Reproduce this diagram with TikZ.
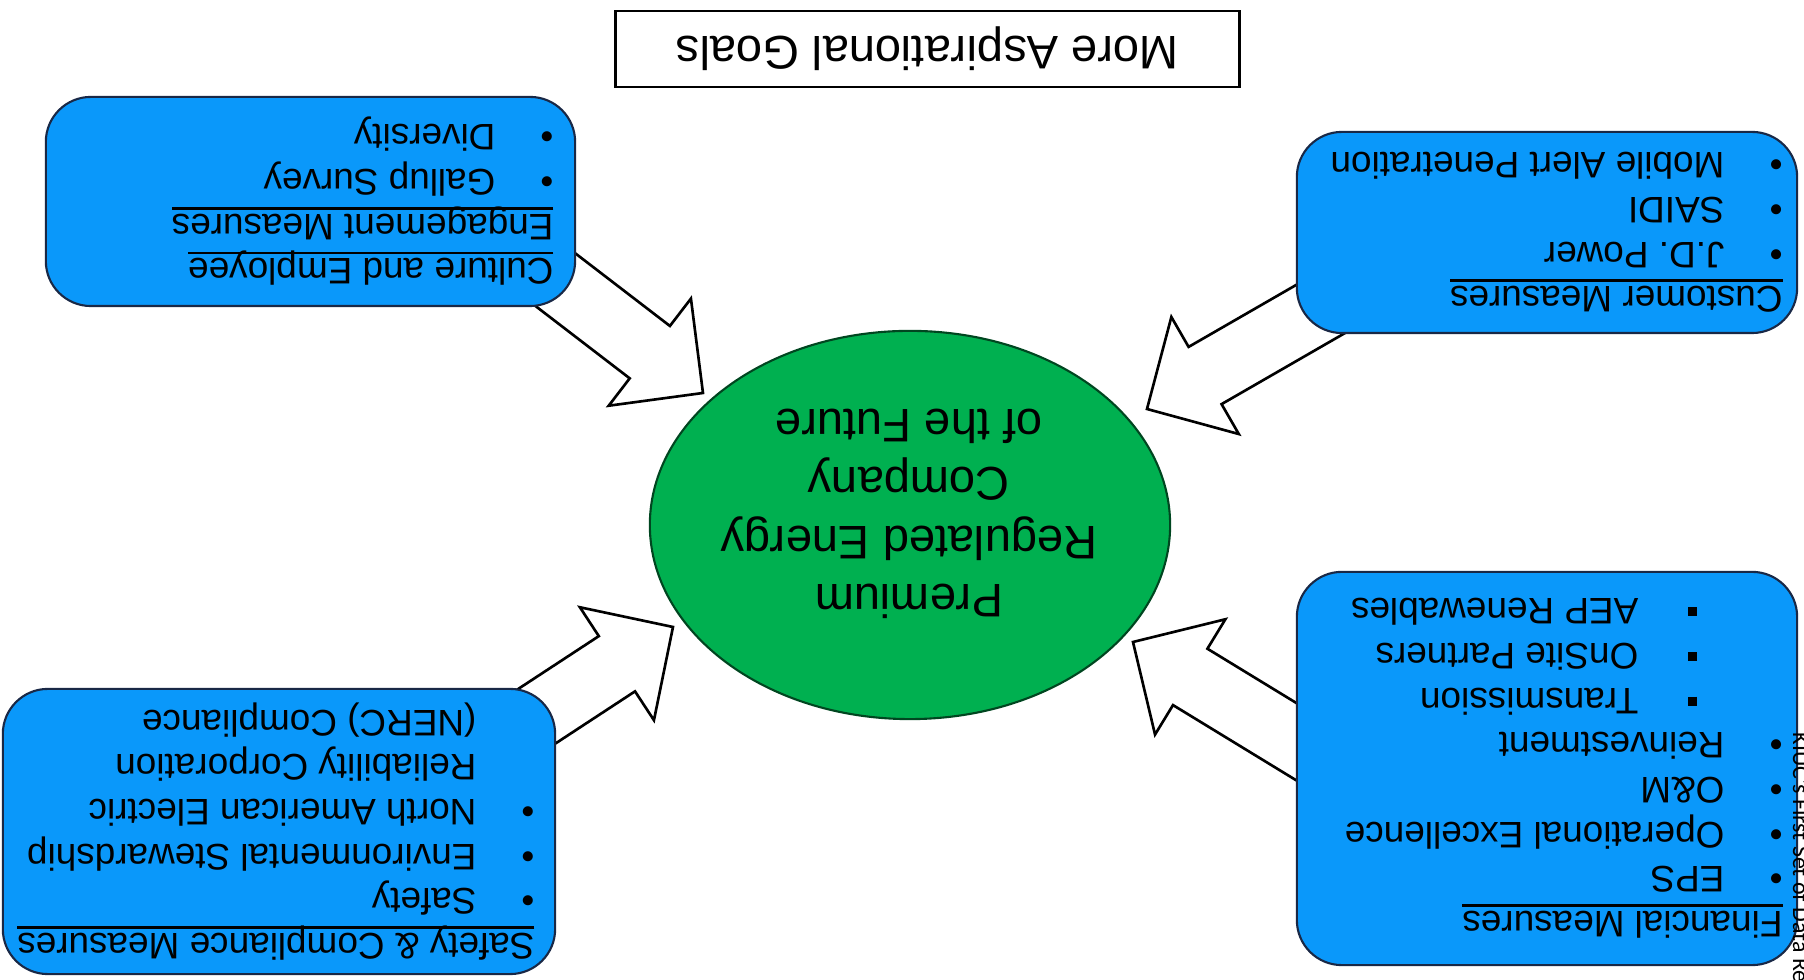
\documentclass[tikz,border=0pt]{standalone}
\usepackage{fontspec}
\setmainfont{Liberation Sans}
\newfontfamily\notefont{Carlito}
\usetikzlibrary{shapes,arrows}
\usetikzlibrary{positioning}
\usetikzlibrary{calc}

\definecolor{boxblue}{RGB}{10,152,250}
\definecolor{boxedge}{RGB}{25,40,70}
\definecolor{goalgreen}{RGB}{0,176,80}

\newcommand\headline[1]{\leavevmode\setbox0\hbox{#1}\rlap{\rule[-2.1pt]{\wd0}{0.75pt}}\box0}
\newcommand\bitem[1]{\makebox[16.5pt][l]{\textbullet}#1}
\newcommand\bcont[1]{\hspace*{16.5pt}#1}
\newcommand\sitem[1]{\makebox[41pt][l]{\hspace*{24.4pt}\rule[2.4pt]{2.5pt}{2.5pt}}#1}
\newcommand\goalarrow[2]{%
  \coordinate (ab) at ($(#2)!0.67cm!(#1)$);
  \draw[blockarrow] ($(#1)!0.33cm!90:(#2)$) -- ($(ab)!0.33cm!90:(#2)$)
    -- ($(ab)!0.675cm!90:(#2)$) -- (#2) -- ($(ab)!0.675cm!-90:(#2)$)
    -- ($(ab)!0.33cm!-90:(#2)$) -- ($(#1)!0.33cm!-90:(#2)$) -- cycle;}

\begin{document}
\begin{tikzpicture}[x=0.01cm, y=-0.01cm, rotate=180, transform shape,
      measurebox/.style={draw=boxedge, line width=0.6pt, fill=boxblue,
          rounded corners=0.45cm},
      boxtext/.style={align=left, inner sep=0pt, anchor=west,
          font=\fontsize{10.5}{12.7}\selectfont},
      blockarrow/.style={draw=black, line width=0.75pt, fill=white},
      bigtext/.style={font=\fontsize{13.4}{16.6}\selectfont}]

      \useasboundingbox (0,0) rectangle (1804,980);
      \clip (0,0) rectangle (1804,980);

      \coordinate (cult-tail) at (1299,739);
      \coordinate (cult-tip) at (1101,587);
      \coordinate (cust-tail) at (440,696);
      \coordinate (cust-tip) at (657,571);
      \coordinate (safe-tail) at (1340,216);
      \coordinate (safe-tip) at (1131,353);
      \coordinate (fin-tail) at (458,208);
      \coordinate (fin-tip) at (671,338);

      \goalarrow{cult-tail}{cult-tip}
      \goalarrow{cust-tail}{cust-tip}
      \goalarrow{safe-tail}{safe-tip}
      \goalarrow{fin-tail}{fin-tip}

      \node[ellipse, draw=black!60!goalgreen, line width=0.6pt, fill=goalgreen,
          minimum width=5.2cm, minimum height=3.88cm] (goal) at (894,455) {};
      \node[bigtext, align=center, inner sep=0pt] (goaltext) at (895,466)
          {Premium\\Regulated Energy\\Company\\of the Future};

      \node[draw, line width=0.8pt, minimum width=6.23cm, minimum height=0.76cm,
          bigtext] (aspiration) at (876.5,931) {More Aspirational Goals};

      \node[measurebox, minimum width=5cm, minimum height=3.93cm] (finbox) at (257,211.5) {};
      \node[boxtext] (fintext) at ([xshift=0.15cm]finbox.west)
          {\headline{Financial Measures}\\
           \bitem{EPS}\\
           \bitem{Operational Excellence}\\
           \bitem{O\&M}\\
           \bitem{Reinvestment}\\
           \sitem{Transmission}\\
           \sitem{OnSite Partners}\\
           \sitem{AEP Renewables}};

      \node[measurebox, minimum width=5cm, minimum height=2.01cm] (custbox) at (257,747.5) {};
      \node[boxtext] (custtext) at ([xshift=0.15cm]custbox.west)
          {\headline{Customer Measures}\\
           \bitem{J.D. Power}\\
           \bitem{SAIDI}\\
           \bitem{Mobile Alert Penetration}};

      \node[measurebox, minimum width=5.29cm, minimum height=2.09cm] (cultbox) at (1493.5,778.5) {};
      \node[boxtext] (culttext) at ([xshift=0.22cm]cultbox.west)
          {\headline{Culture and Employee}\\
           \headline{Engagement Measures}\\
           \bitem{Gallup Survey}\\
           \bitem{Diversity}};

      \node[measurebox, minimum width=5.52cm, minimum height=2.85cm] (safebox) at (1525,148.5) {};
      \node[boxtext] (safetext) at ([xshift=0.21cm]safebox.west)
          {\headline{Safety \& Compliance Measures}\\
           \bitem{Safety}\\
           \bitem{Environmental Stewardship}\\
           \bitem{North American Electric}\\
           \bcont{Reliability Corporation}\\
           \bcont{(NERC) Compliance}};

      \node[font=\notefont\fontsize{6.8}{8}\selectfont, rotate=90, anchor=base west,
          inner sep=0pt] (sidenote) at (11,248) {KIUC's First Set of Data Requests};
\end{tikzpicture}
\end{document}
